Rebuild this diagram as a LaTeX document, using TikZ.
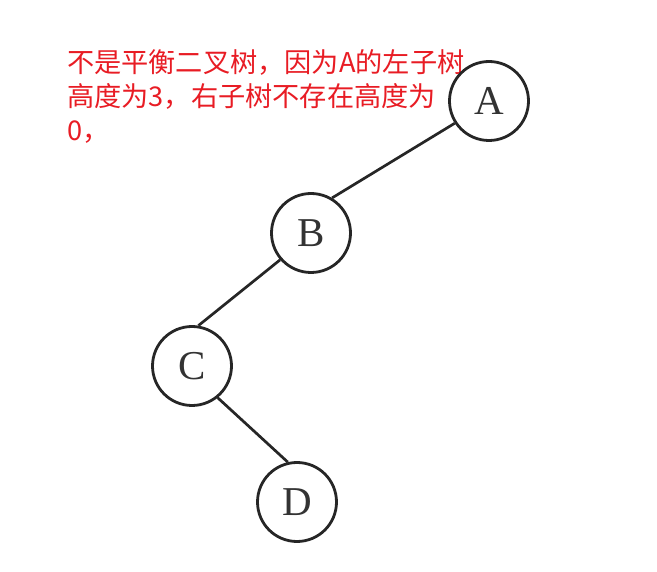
\documentclass[tikz,border=0pt]{standalone}
\usepackage{fontspec}
\setmainfont{Liberation Serif}
\newfontfamily\cjk{Noto Sans CJK SC}
\definecolor{notered}{RGB}{232,28,36}
\begin{document}
\begin{tikzpicture}
        [x=1pt,y=-1pt,
        vertex/.style ={draw=black!85,circle,line width=2.8pt,minimum size=79pt,inner sep=0pt,font=\fontsize{41}{41}\selectfont,text=black!80},
        note/.style ={anchor=base west,inner sep=0pt,text=notered,font=\cjk\fontsize{27.2}{34}\selectfont}]
        \useasboundingbox (0,0) rectangle (657,572);
        \node[note] (l1) at (67,73){不是平衡二叉树，因为A的左子树};
        \node[note] (l2) at (67,107){高度为3，右子树不存在高度为};
        \node[note] (l3) at (67,141){0，};
        \node[vertex] (a) at (489,101){A};
        \node[vertex] (b) at (311,233){B};
        \node[vertex] (c) at (192,366){C};
        \node[vertex] (d) at (297,502){D};
        \draw[line width=2.7pt,black!85] (a.213) to (b.59) (b.221) to (c.81) (c.309) to (d.103);
    \end{tikzpicture}
\end{document}
